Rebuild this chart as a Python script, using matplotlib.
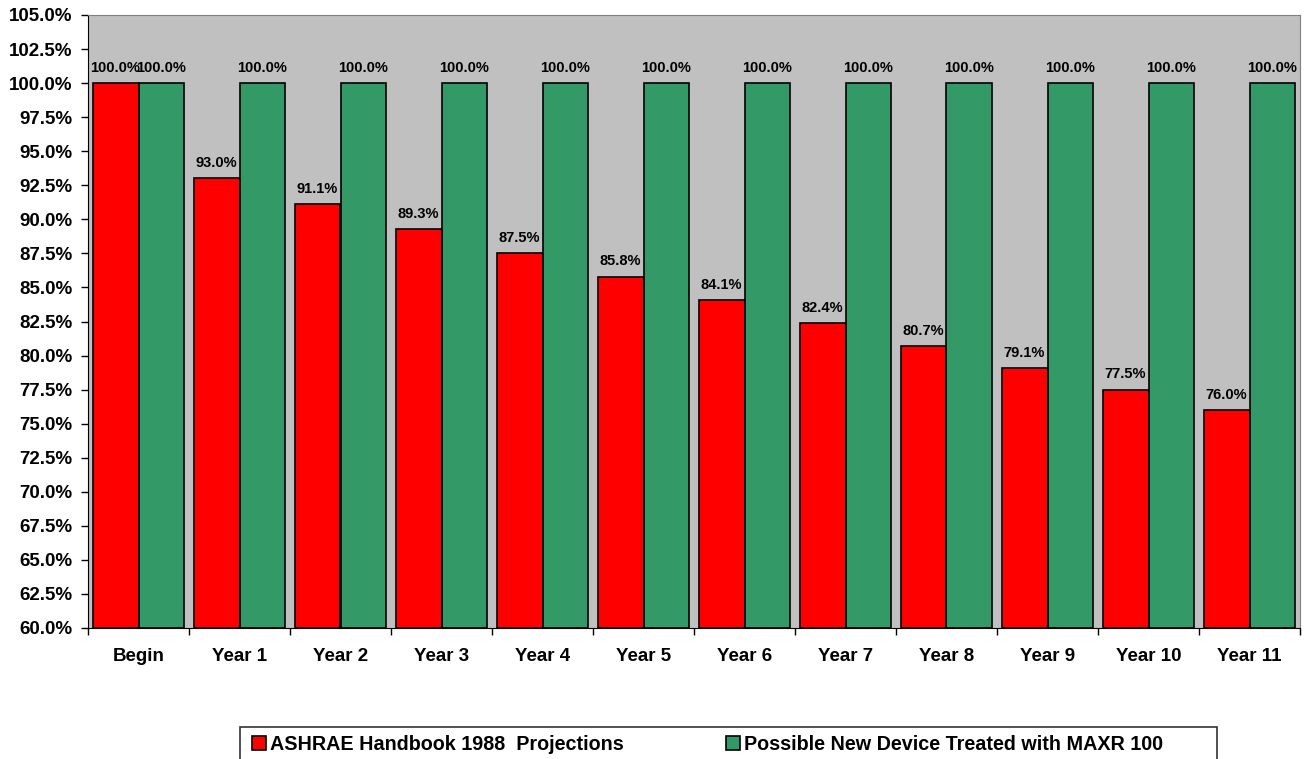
import matplotlib
matplotlib.use("Agg")
import matplotlib.pyplot as plt
import numpy as np
from matplotlib.ticker import FuncFormatter, MultipleLocator
from matplotlib.patches import Rectangle

categories = ["Begin", "Year 1", "Year 2", "Year 3", "Year 4", "Year 5",
              "Year 6", "Year 7", "Year 8", "Year 9", "Year 10", "Year 11"]
ashrae = [100.0, 93.0, 91.1, 89.3, 87.5, 85.8, 84.1, 82.4, 80.7, 79.1, 77.5, 76.0]
maxr = [100.0] * 12
series_names = ["ASHRAE Handbook 1988  Projections",
                "Possible New Device Treated with MAXR 100"]

plt.rcParams['font.family'] = ['Liberation Sans', 'DejaVu Sans']
plt.rcParams['font.weight'] = 'bold'

W, H = 1314, 759
fig = plt.figure(figsize=(W/100, H/100), dpi=100)
ax = fig.add_axes([88/W, 1 - 628/H, (1300-88)/W, (628-15)/H])
ax.set_facecolor('#C0C0C0')

x = np.arange(len(categories))
w = 0.455
b1 = ax.bar(x - w/2, [v - 60 for v in ashrae], w, bottom=60, color='#FF0000',
            edgecolor='black', linewidth=1.2, label=series_names[0])
b2 = ax.bar(x + w/2, [v - 60 for v in maxr], w, bottom=60, color='#339966',
            edgecolor='black', linewidth=1.2, label=series_names[1])

for xi, v in zip(x, ashrae):
    ax.annotate(f"{v:.1f}%", (xi - w/2, v), xytext=(0, 8), textcoords='offset points',
                ha='center', va='baseline', fontsize=10.5, fontweight='bold')
for xi, v in zip(x, maxr):
    ax.annotate(f"{v:.1f}%", (xi + w/2, v), xytext=(0, 8), textcoords='offset points',
                ha='center', va='baseline', fontsize=10.5, fontweight='bold')

ax.set_xlim(-0.5, len(categories) - 0.5)
ax.set_ylim(60, 105)
ax.yaxis.set_major_locator(MultipleLocator(2.5))
ax.yaxis.set_major_formatter(FuncFormatter(lambda v, p: f"{v:.1f}%"))
ax.set_xticks(np.arange(len(categories) + 1) - 0.5, minor=False)
ax.set_xticklabels([])
ax.set_xticks(x, minor=True)
ax.set_xticklabels(categories, minor=True)
ax.tick_params(axis='x', which='minor', length=0, pad=14.5, labelsize=13.5)
ax.tick_params(axis='x', which='major', length=5, direction='out', width=1)
ax.tick_params(axis='y', length=5, direction='out', labelsize=13.5, width=1, pad=6)
for lab in ax.get_yticklabels() + ax.get_xticklabels(minor=True):
    lab.set_fontweight('bold')

for s in ['top', 'right']:
    ax.spines[s].set_color('#808080')
for s in ['left', 'bottom']:
    ax.spines[s].set_color('black')

# legend frame (extends past bottom edge like the reference)
frame = Rectangle((240/W, 1 - 772/H), (1217-240)/W, (772-727)/H,
                  transform=fig.transFigure, facecolor='white',
                  edgecolor='#333333', linewidth=1.2)
fig.patches.append(frame)

leg = fig.legend(handles=[b1, b2], labels=series_names, loc='upper left',
                 bbox_to_anchor=(246/W, 1 - 729/H), ncol=2, frameon=False,
                 handlelength=0.7, handleheight=0.7, handletextpad=0.2,
                 columnspacing=5.2, borderpad=0.3, borderaxespad=0,
                 prop={'weight': 'bold', 'size': 14.2})

fig.savefig("out.png", dpi=100, facecolor='white')
